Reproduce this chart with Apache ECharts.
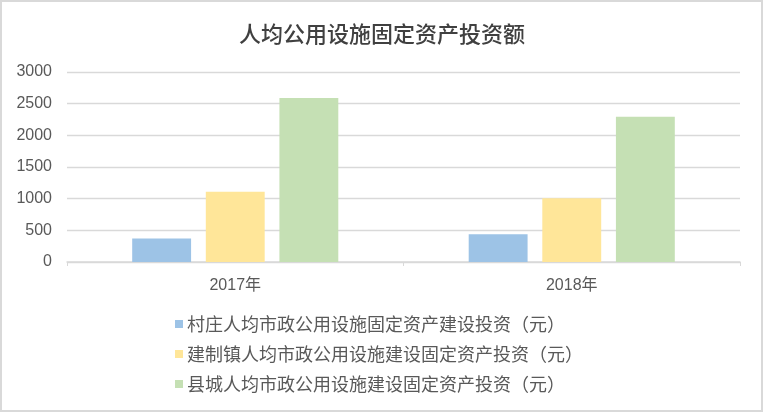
<!DOCTYPE html>
<html>
<head>
<meta charset="utf-8">
<script src="https://cdn.jsdelivr.net/npm/echarts@6/dist/echarts.min.js"></script>
<style>
html, body { margin: 0; padding: 0; background: #fff; }
#main { width: 764px; height: 413px; }
</style>
</head>
<body>
<div id="main"></div>
<script>
var years = ['2017年', '2018年'];
var seriesNames = [
	'村庄人均市政公用设施固定资产建设投资（元）',
	'建制镇人均市政公用设施建设固定资产投资（元）',
	'县城人均市政公用设施建设固定资产投资（元）'
];
var villageValues = [370, 440];
var townValues = [1110, 1005];
var countyValues = [2590, 2295];
var yTicks = [0, 500, 1000, 1500, 2000, 2500, 3000];

var colors = ['#9dc3e6', '#ffe699', '#c5e0b4'];
var seriesValues = [villageValues, townValues, countyValues];

var dom = document.getElementById('main');
var myChart = echarts.init(dom, null, { renderer: 'canvas' });

var option = {
	backgroundColor: '#fff',
	textStyle: { fontFamily: 'Liberation Sans, Noto Sans CJK SC' },
	title: {
		text: '人均公用设施固定资产投资额',
		left: 'center',
		top: 23,
		padding: 0,
		textStyle: {
			fontFamily: 'Noto Sans CJK SC',
			fontSize: 22,
			fontWeight: 500,
			color: '#404040'
		}
	},
	graphic: [{
		type: 'rect',
		silent: true,
		shape: { x: 1, y: 1, width: 761, height: 410 },
		style: { fill: 'none', stroke: '#d9d9d9', lineWidth: 2 }
	}],
	legend: {
		orient: 'vertical',
		left: 175,
		top: 315,
		padding: 0,
		itemWidth: 8,
		itemHeight: 8,
		itemGap: 12,
		icon: 'rect',
		textStyle: {
			fontFamily: 'Noto Sans CJK SC',
			fontSize: 18,
			color: '#595959',
			padding: [0, 0, 0, -1]
		},
		data: seriesNames
	},
	grid: {
		left: 67,
		right: 24,
		top: 72,
		bottom: 151,
		containLabel: false
	},
	xAxis: {
		type: 'category',
		data: years,
		axisLine: { lineStyle: { color: '#d9d9d9', width: 1.5 } },
		axisTick: { show: true, length: 4, lineStyle: { color: '#d9d9d9' } },
		axisLabel: {
			fontSize: 16,
			color: '#595959',
			margin: 16,
			fontFamily: 'Liberation Sans, Noto Sans CJK SC'
		}
	},
	yAxis: {
		type: 'value',
		min: yTicks[0],
		max: yTicks[yTicks.length - 1],
		interval: yTicks[1] - yTicks[0],
		axisLine: { show: false },
		axisTick: { show: false },
		axisLabel: {
			fontSize: 16,
			color: '#595959',
			margin: 15,
			fontFamily: 'Liberation Sans',
			formatter: function (v) { return String(v); }
		},
		splitLine: { lineStyle: { color: '#d9d9d9', width: 1.3 } }
	},
	series: seriesNames.map(function (name, i) {
		return {
			name: name,
			type: 'bar',
			barWidth: '17.5%',
			barGap: '25%',
			itemStyle: { color: colors[i] },
			data: seriesValues[i]
		};
	})
};

if (option && typeof option === 'object') {
	myChart.setOption(option);
}
</script>
</body>
</html>
